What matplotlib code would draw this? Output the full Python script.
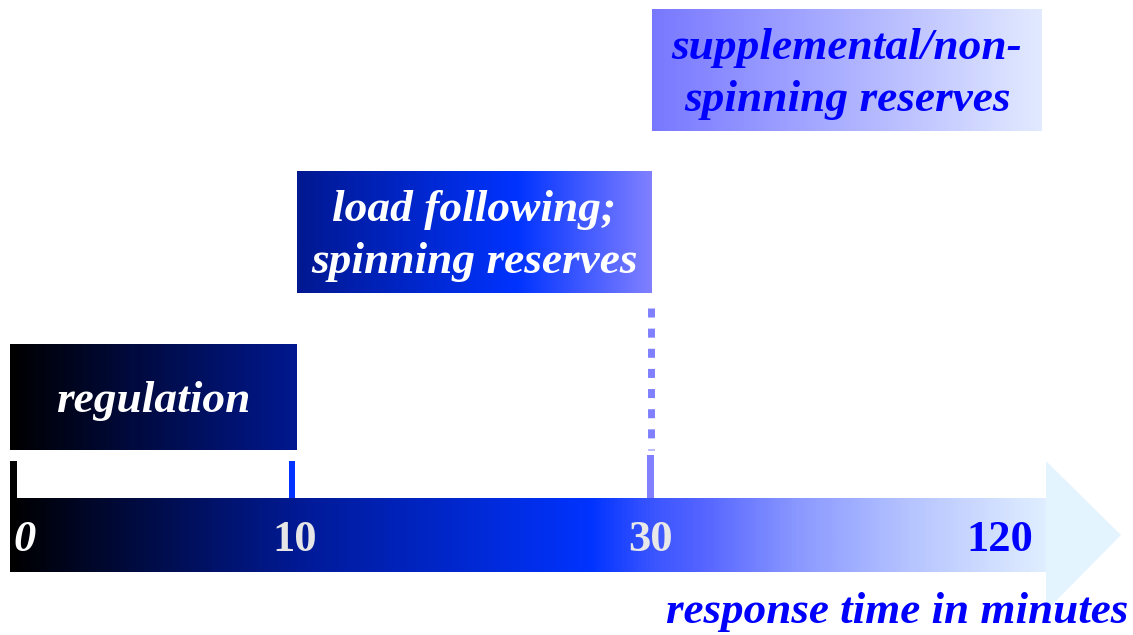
import numpy as np
import matplotlib.pyplot as plt
from matplotlib.colors import LinearSegmentedColormap
from matplotlib.patches import Polygon, Rectangle

# response-time timeline (minutes) and the services covering each span
tick_values = [0, 10, 30, 120]
tick_labels = ["0", "10", "30", "120"]
services = ["regulation", "load following;\nspinning reserves", "supplemental/non-\nspinning reserves"]
service_spans = [(0, 10), (10, 30), (30, 120)]
axis_title = "response time in minutes"

# horizontal pixel position of each timeline value (the scale is not linear)
value_x = {0: 10, 10: 297, 30: 652, 120: 1042}
box_rows = [(344, 450), (171, 293), (9, 131)]
box_cmaps = [
    ["#000000", "#001890"],
    [(0.0, "#001890"), (0.62, "#0033ff"), (1.0, "#8080ff")],
    ["#7878ff", "#e2eaff"],
]
text_colors = ["white", "white", "#0000ff"]
label_colors = ["white", "#e6e6e6", "#e8e8e8", "#0000ff"]
label_italic = [True, False, False, False]

W, H = 1133, 635
fig = plt.figure(figsize=(W / 100, H / 100), dpi=100)
ax = fig.add_axes([0, 0, 1, 1])
ax.set_xlim(0, W)
ax.set_ylim(H, 0)
ax.axis("off")

FONT = "Liberation Serif"
grad = np.linspace(0, 1, 512).reshape(1, -1)

# arrow body + head with gradient fill
body_top, body_bot = 498, 572
head_x, tip_x, head_top, head_bot = 1047, 1121, 461, 611
mid_y = (body_top + body_bot) / 2
arrow_cmap = LinearSegmentedColormap.from_list("arrow", [
    (0.0, "#000000"), (0.28, "#001a96"), (0.56, "#0033ff"),
    (0.62, "#3a55ff"), (0.67, "#5565ff"), (0.76, "#8a98ff"),
    (0.87, "#b6c4ff"), (1.0, "#e0eeff")])
ax.imshow(grad, cmap=arrow_cmap, aspect="auto",
          extent=(10, head_x, body_bot, body_top), zorder=1)
ax.add_patch(Polygon([(head_x - 1, head_top), (tip_x, mid_y), (head_x - 1, head_bot)],
                     closed=True, facecolor="#e4f4ff", edgecolor="none", zorder=1))

# service boxes
for name, (a, b), (y0, y1), cols, tc in zip(services, service_spans, box_rows, box_cmaps, text_colors):
    x0, x1 = value_x[a], value_x[b]
    cm = LinearSegmentedColormap.from_list(name, cols)
    ax.imshow(grad, cmap=cm, aspect="auto", extent=(x0, x1, y1, y0), zorder=2)
    ax.text((x0 + x1) / 2, (y0 + y1) / 2 + 4, name, ha="center", va="center",
            color=tc, fontsize=32.7, fontfamily=FONT, fontweight="bold",
            fontstyle="italic", linespacing=1.38, zorder=3)

# tick marks above the arrow
ax.add_patch(Rectangle((10, 461), 7, body_top - 461, facecolor="black", zorder=2))
ax.add_patch(Rectangle((289, 461), 6, body_top - 461, facecolor="#0033ff", zorder=2))
ax.add_patch(Rectangle((647, 455), 7, body_top - 455, facecolor="#8080ff", zorder=2))
ax.plot([650.5, 650.5], [308, 450], color="#8080ff", lw=5.0,
        linestyle=(0, (1.3, 1.6)), solid_capstyle="butt", dash_capstyle="butt", zorder=2)

# tick labels inside the arrow
label_x = [25, 295, 650, 1000]
for lab, lx, c, it in zip(tick_labels, label_x, label_colors, label_italic):
    ax.text(lx, 540, lab, ha="center", va="center", color=c, fontsize=32,
            fontfamily=FONT, fontweight="bold", fontstyle="italic" if it else "normal", zorder=3)

ax.text(1128, 612, axis_title, ha="right", va="center", color="#0000ff", fontsize=32.5,
        fontfamily=FONT, fontweight="bold", fontstyle="italic", zorder=3)

fig.savefig("out.png", dpi=100)
